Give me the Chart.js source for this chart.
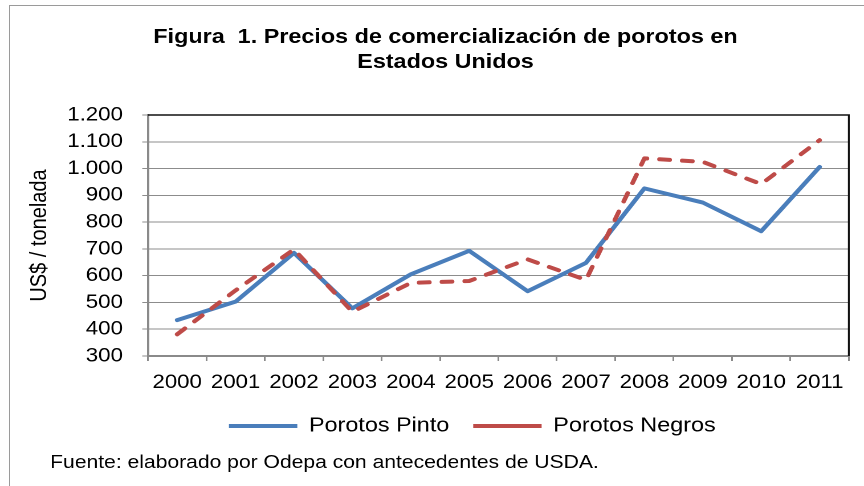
<!DOCTYPE html>
<html>
<head>
<meta charset="utf-8">
<script src="https://cdn.jsdelivr.net/npm/chart.js@4.4.1/dist/chart.umd.min.js"></script>
<style>
    html, body { margin: 0; padding: 0; background: #fff; overflow: hidden; }
    #frame {
        position: absolute; left: 9px; top: 5px; width: 900px; height: 520px;
        border-left: 1px solid #9a9a9a; border-top: 1px solid #9a9a9a;
    }
    /* the original picture is stretched sideways, so the chart is drawn narrower and scaled out */
    #wrap {
        position: absolute; left: 0; top: 0; width: 758px; height: 486px;
        transform: scaleX(1.1398); transform-origin: 0 0;
    }
</style>
</head>
<body>
<div id="frame"></div>
<div id="wrap"><canvas id="chart" width="758" height="486"></canvas></div>
<script>
const years = ['2000', '2001', '2002', '2003', '2004', '2005', '2006', '2007', '2008', '2009', '2010', '2011'];
const pinto = [434, 503, 685, 478, 605, 693, 542, 648, 926, 873, 766, 1006];
const negros = [381, 545, 698, 465, 573, 580, 661, 584, 1038, 1025, 942, 1106];
const yTickLabels = ['300', '400', '500', '600', '700', '800', '900', '1.000', '1.100', '1.200'];

const titleLines = ['Figura  1. Precios de comercialización de porotos en', 'Estados Unidos'];
const yAxisTitle = 'US$ / tonelada';
const footnote = 'Fuente: elaborado por Odepa con antecedentes de USDA.';

const FONT = "'Liberation Sans', Arial, sans-serif";

// top and right edges of the plot area, plus the source line
const extras = {
    id: 'extras',
    afterLayout(chart) {
        // center title and legend like the original
        chart.titleBlock.left += 7;
        chart.titleBlock.right += 7;
        chart.legend.left += 30.5;
        chart.legend.right += 30.5;
    },
    beforeDatasetsDraw(chart) {
        const {ctx, chartArea: a} = chart;
        ctx.save();
        ctx.strokeStyle = '#111';
        ctx.lineWidth = 1.6;
        ctx.beginPath();
        ctx.moveTo(a.left, a.top);
        ctx.lineTo(a.right, a.top);
        ctx.lineTo(a.right, a.bottom);
        ctx.stroke();
        ctx.restore();
    },
    afterDraw(chart) {
        const ctx = chart.ctx;
        ctx.save();
        ctx.font = "18.5px " + FONT;
        ctx.fillStyle = '#000';
        ctx.textBaseline = 'middle';
        ctx.fillText(footnote, 44, 463);
        ctx.restore();
    }
};

new Chart(document.getElementById('chart'), {
    type: 'line',
    data: {
        labels: years,
        datasets: [{
            label: 'Porotos Pinto',
            data: pinto,
            borderColor: '#4A7EBB',
            backgroundColor: '#4A7EBB',
            borderWidth: 4,
            borderJoinStyle: 'round',
            borderCapStyle: 'round',
            pointRadius: 0,
            tension: 0,
            order: 1
        }, {
            label: 'Porotos Negros',
            data: negros,
            borderColor: '#BE4B48',
            backgroundColor: '#BE4B48',
            borderWidth: 4,
            borderDash: [9, 11],
            borderJoinStyle: 'round',
            borderCapStyle: 'round',
            pointRadius: 0,
            tension: 0,
            order: 0
        }]
    },
    options: {
        responsive: false,
        animation: false,
        devicePixelRatio: 2,
        layout: {
            padding: {left: 23, right: 13.3, top: 0, bottom: 39.75}
        },
        plugins: {
            title: {
                display: true,
                text: titleLines,
                color: '#000',
                font: {family: FONT, size: 20.5, weight: 'bold', lineHeight: '25px'},
                padding: {top: 25, bottom: 40}
            },
            legend: {
                position: 'bottom',
                labels: {
                    usePointStyle: true,
                    pointStyle: 'line',
                    pointStyleWidth: 60,
                    padding: 21,
                    color: '#000',
                    font: {family: FONT, size: 20.5},
                    sort: (a, b) => a.datasetIndex - b.datasetIndex
                }
            },
            tooltip: {enabled: false}
        },
        scales: {
            x: {
                offset: true,
                afterFit(scale) { scale.height = 38.75; },
                grid: {
                    offset: true,
                    drawOnChartArea: false,
                    drawTicks: true,
                    tickLength: 5,
                    color: '#8a8a8a',
                    lineWidth: 1.5
                },
                border: {color: '#8a8a8a', width: 2},
                ticks: {
                    color: '#000',
                    padding: 10,
                    maxRotation: 0,
                    autoSkip: false,
                    font: {family: FONT, size: 19.5}
                }
            },
            y: {
                min: 300,
                max: 1200,
                afterFit(scale) { scale.width = 106.8; },
                grid: {
                    color: '#8c8c8c',
                    lineWidth: 1,
                    tickLength: 5
                },
                border: {color: '#8a8a8a', width: 2},
                ticks: {
                    stepSize: 100,
                    color: '#000',
                    padding: 17,
                    font: {family: FONT, size: 19.5},
                    callback: (value, index) => yTickLabels[index]
                },
                title: {
                    display: true,
                    text: yAxisTitle,
                    color: '#000',
                    padding: {top: 0, bottom: 0},
                    font: {family: FONT, size: 20}
                }
            }
        }
    },
    plugins: [extras]
});
</script>
</body>
</html>
